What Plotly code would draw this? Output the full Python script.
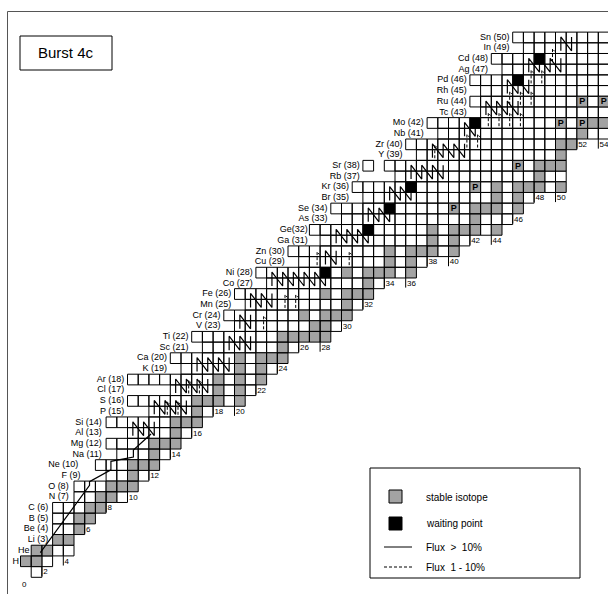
import plotly.graph_objects as go

# ---------------- data ----------------
element_labels = ["", "H", "He", "Li (3)", "Be (4)", "B (5)", "C (6)", "N (7)", "O (8)", "F (9)",
                  "Ne (10)", "Na (11)", "Mg (12)", "Al (13)", "Si (14)", "P (15)", "S (16)", "Cl (17)",
                  "Ar (18)", "K (19)", "Ca (20)", "Sc (21)", "Ti (22)", "V (23)", "Cr (24)", "Mn (25)",
                  "Fe (26)", "Co (27)", "Ni (28)", "Cu (29)", "Zn (30)", "Ga (31)", "Ge(32)", "As (33)",
                  "Se (34)", "Br (35)", "Kr (36)", "Rb (37)", "Sr (38)", "Y (39)", "Zr (40)", "Nb (41)",
                  "Mo (42)", "Tc (43)", "Ru (44)", "Rh (45)", "Pd (46)", "Ag (47)", "Cd (48)", "In (49)",
                  "Sn (50)"]
# lightest neutron number shown in each row (index = Z)
row_nmin = [1, 0, 1, 3, 3, 3, 3, 5, 5, 8, 7, 9, 8, 10, 8, 12, 10, 14, 10, 15,
            14, 17, 16, 20, 19, 21, 20, 23, 22, 26, 25, 28, 27, 30, 29, 32, 31, 35, 32, 37,
            36, 39, 38, 43, 42, 43, 42, 45, 44, 47, 46]
# right end of each element label, in neutron-number units (index = Z)
label_right = [None, -0.15, 0.85, 2.6, 2.6, 2.6, 2.6, 4.5, 4.5, 5.6, 5.4, 7.6, 7.6, 7.6, 7.6, 9.7, 9.7,
               9.7, 9.7, 13.7, 13.7, 15.7, 15.7, 18.7, 18.7, 19.7, 19.7, 21.7, 21.7, 24.7, 24.7,
               26.85, 26.85, 28.7, 28.7, 30.7, 30.7, 31.7, 31.7, 35.7, 35.7, 37.7, 37.7, 41.7, 41.7,
               41.7, 41.7, 43.7, 43.7, 45.7, 45.7]
# lowest Z shown in each even-N column (index = N/2)
col_zmin_even = [1, 1, 2, 5, 7, 8, 10, 12, 14, 16, 16, 18, 20, 22, 22, 24, 26, 28, 28, 30,
                 30, 32, 32, 34, 36, 36, 41, 41]
# stable isotopes: Z -> neutron numbers
stable = {1: [0, 1], 2: [1, 2], 3: [3, 4], 4: [5], 5: [5, 6], 6: [6, 7], 7: [7, 8], 8: [8, 9, 10],
          9: [10], 10: [10, 11, 12], 11: [12], 12: [12, 13, 14], 13: [14], 14: [14, 15, 16], 15: [16],
          16: [16, 17, 18, 20], 17: [18, 20], 18: [18, 20, 22], 19: [20, 22], 20: [20, 22, 23, 24],
          21: [24], 22: [24, 25, 26, 27, 28], 23: [27, 28], 24: [26, 28, 29, 30], 25: [30],
          26: [28, 30, 31, 32], 27: [32], 28: [30, 32, 33, 34, 36], 29: [34, 36], 30: [34, 36, 37, 38, 40],
          31: [38, 40], 32: [38, 40, 41, 42, 44], 33: [42], 34: [42, 43, 44, 46], 35: [44, 46],
          36: [44, 46, 47, 48, 50], 37: [48], 38: [48, 49, 50], 39: [50], 40: [50, 51, 52, 54],
          41: [52], 42: [53, 54, 55], 44: [55]}
p_nuclei_N = [40, 42, 46, 50, 52, 52, 54]
p_nuclei_Z = [34, 36, 38, 42, 42, 44, 44]
waiting_N = [28, 32, 34, 36, 42, 46, 48]
waiting_Z = [28, 32, 34, 36, 42, 46, 48]
gap_cells = [(33, 38)]

# flux > 10 % : light-element (alpha,p)/(p,g) chain in (N, Z) chart coordinates
flux_hi_start_N = [1.85, 6.45, 6.45, 8.45, 8.45, 10.55, 10.55, 12.2]
flux_hi_start_Z = [2.30, 8.60, 8.95, 10.05, 10.85, 11.25, 11.9, 13.4]
# zigzag runs (p,g)/(beta+): lower Z, first N, last N
zig_hi = [(13, 10, 12), (15, 12, 15), (17, 14, 17), (19, 16, 19), (21, 19, 21), (23, 20, 21),
          (25, 21, 23), (27, 23, 28), (29, 28, 29), (31, 29, 32), (33, 32, 34), (35, 34, 36),
          (37, 36, 39), (39, 38, 41), (41, 41, 42), (43, 43, 46), (45, 45, 47), (47, 47, 50),
          (49, 50, 51)]
# flux 1-10 % : lower Z, first N, last N
zig_lo = [(15, 13, 14), (17, 15, 16), (23, 22, 22), (25, 24, 25), (29, 27, 27), (29, 30, 30),
          (39, 38, 38), (40, 41, 42), (42, 43, 46), (44, 45, 47), (46, 47, 48), (48, 49, 49)]

# ---------------- geometry helpers ----------------
NMAX_DRAW = 56
def zmin_col(n):
    if n == 1:
        return 0
    if n == 3:
        return 2
    if n % 2 == 0:
        i = n // 2
        return col_zmin_even[i] if i < len(col_zmin_even) else 99
    return max(zmin_col(n - 1), zmin_col(n + 1) - 1)

def row_nmax(z):
    best = -1
    for n in range(0, NMAX_DRAW):
        if zmin_col(n) <= z:
            best = n
    return best if z < 41 else NMAX_DRAW

cells = []
for z in range(0, 51):
    for n in range(row_nmin[z], row_nmax(z) + 1):
        if (n, z) in gap_cells:
            continue
        cells.append((n, z))
cellset = set(cells)

gray = set()
for z, ns in stable.items():
    for n in ns:
        if (n, z) in cellset:
            gray.add((n, z))
pset = set(zip(p_nuclei_N, p_nuclei_Z))
wset = set(zip(waiting_N, waiting_Z))

def poly(cs):
    xs, ys = [], []
    for n, z in cs:
        xs += [n, n + 1, n + 1, n, n, None]
        ys += [z, z, z + 1, z + 1, z, None]
    return xs, ys

FONT = "Liberation Sans, Arial, sans-serif"
fig = go.Figure()
white_cells = [c for c in cells if c not in gray and c not in pset and c not in wset]
for cs, col in [(white_cells, "white"), (sorted(gray), "#a3a3a3"), (sorted(pset), "#a3a3a3"),
                (sorted(wset), "black")]:
    xs, ys = poly(cs)
    fig.add_trace(go.Scatter(x=xs, y=ys, mode="lines", fill="toself", fillcolor=col,
                             line=dict(color="black", width=1), hoverinfo="skip", showlegend=False))

fig.add_trace(go.Scatter(x=[n + 0.5 for n in p_nuclei_N], y=[z + 0.45 for z in p_nuclei_Z],
                         mode="text", text=["<b>P</b>"] * len(p_nuclei_N),
                         textfont=dict(family=FONT, size=9, color="black"),
                         hoverinfo="skip", showlegend=False))

def zig(zl, n0, n1, off=0.5):
    xs, ys = [], []
    for n in range(n0, n1 + 1):
        xs += [n + off, n + off]
        ys += [zl + 0.25, zl + 1.55]
        if n < n1:
            xs += [n + 1 + off]
            ys += [zl + 0.25]
    return xs, ys

hx, hy = list(flux_hi_start_N), list(flux_hi_start_Z)
hx.append(None); hy.append(None)
for zl, a, b in zig_hi:
    xs, ys = zig(zl, a, b)
    hx += xs + [None]; hy += ys + [None]
fig.add_trace(go.Scatter(x=hx, y=hy, mode="lines", line=dict(color="black", width=1.2),
                         hoverinfo="skip", showlegend=False))
lx, ly = [], []
for zl, a, b in zig_lo:
    for n in range(a, b + 1):
        lx += [n + 0.72, n + 0.72, n + 0.92, None]
        ly += [zl + 0.2, zl + 1.45, zl + 1.2, None]
fig.add_trace(go.Scatter(x=lx, y=ly, mode="lines", line=dict(color="black", width=1, dash="3px,2px"),
                         hoverinfo="skip", showlegend=False))

lab_x, lab_y, lab_t = [], [], []
for z in range(1, 51):
    lab_x.append(label_right[z]); lab_y.append(z + 0.5); lab_t.append(element_labels[z])
fig.add_trace(go.Scatter(x=lab_x, y=lab_y, text=lab_t, mode="text", textposition="middle left",
                         textfont=dict(family=FONT, size=9, color="black"),
                         hoverinfo="skip", showlegend=False))

nx, ny, nt = [], [], []
tx, ty = [], []
for i in range(len(col_zmin_even)):
    n = 2 * i
    zm = col_zmin_even[i]
    if n == 0:
        nx.append(0.15); ny.append(-0.75)
    else:
        nx.append(n + 0.12); ny.append(zm - 0.55)
        tx += [n, n, None]; ty += [zm, zm - 0.9, None]
    nt.append(str(n))
fig.add_trace(go.Scatter(x=tx, y=ty, mode="lines", line=dict(color="black", width=1),
                         hoverinfo="skip", showlegend=False))
fig.add_trace(go.Scatter(x=nx, y=ny, text=nt, mode="text", textposition="middle right",
                         textfont=dict(family=FONT, size=8, color="black"),
                         hoverinfo="skip", showlegend=False))

W, H = 608, 594
def px(x):
    return x / W
def py(y):
    return 1 - y / H

shapes = []
shapes.append(dict(type="line", xref="paper", yref="paper", x0=px(7.5), y0=py(594), x1=px(7.5), y1=py(11.5),
                   line=dict(color="#555", width=1)))
shapes.append(dict(type="line", xref="paper", yref="paper", x0=px(7.5), y0=py(11.5), x1=px(608), y1=py(11.5),
                   line=dict(color="#555", width=1)))
shapes.append(dict(type="rect", xref="paper", yref="paper", x0=px(20), y0=py(70), x1=px(112), y1=py(36),
                   line=dict(color="black", width=1), fillcolor="white"))
shapes.append(dict(type="rect", xref="paper", yref="paper", x0=px(370), y0=py(578), x1=px(580), y1=py(468),
                   line=dict(color="black", width=1), fillcolor="white"))
shapes.append(dict(type="rect", xref="paper", yref="paper", x0=px(389), y0=py(503), x1=px(402), y1=py(490),
                   line=dict(color="black", width=1), fillcolor="#a3a3a3"))
shapes.append(dict(type="rect", xref="paper", yref="paper", x0=px(389), y0=py(530), x1=px(402), y1=py(517),
                   line=dict(color="black", width=1), fillcolor="black"))
shapes.append(dict(type="line", xref="paper", yref="paper", x0=px(384), y0=py(547), x1=px(412), y1=py(547),
                   line=dict(color="black", width=1)))
shapes.append(dict(type="line", xref="paper", yref="paper", x0=px(384), y0=py(567), x1=px(412), y1=py(567),
                   line=dict(color="black", width=1, dash="3px,2px")))

annotations = [
    dict(text="Burst 4c", x=px(66), y=py(53), xref="paper", yref="paper", showarrow=False,
         xanchor="center", yanchor="middle", font=dict(family=FONT, size=15, color="black")),
]
for t, yy in [("stable isotope", 497), ("waiting point", 523), ("Flux  >  10%", 547), ("Flux  1 - 10%", 567)]:
    annotations.append(dict(text=t, x=px(424), y=py(yy), xref="paper", yref="paper", showarrow=False,
                            xanchor="left", yanchor="middle", font=dict(family=FONT, size=10, color="black")))

CW, CH, X0, Y0 = 10.70, 10.69, 20.5, 577.3
fig.update_layout(width=W, height=H, margin=dict(l=0, r=0, t=0, b=0),
                  paper_bgcolor="white", plot_bgcolor="white",
                  xaxis=dict(range=[-X0 / CW, (W - X0) / CW], visible=False, fixedrange=True),
                  yaxis=dict(range=[(Y0 - H) / CH, Y0 / CH], visible=False, fixedrange=True),
                  shapes=shapes, annotations=annotations)
fig.write_html("out.html")
